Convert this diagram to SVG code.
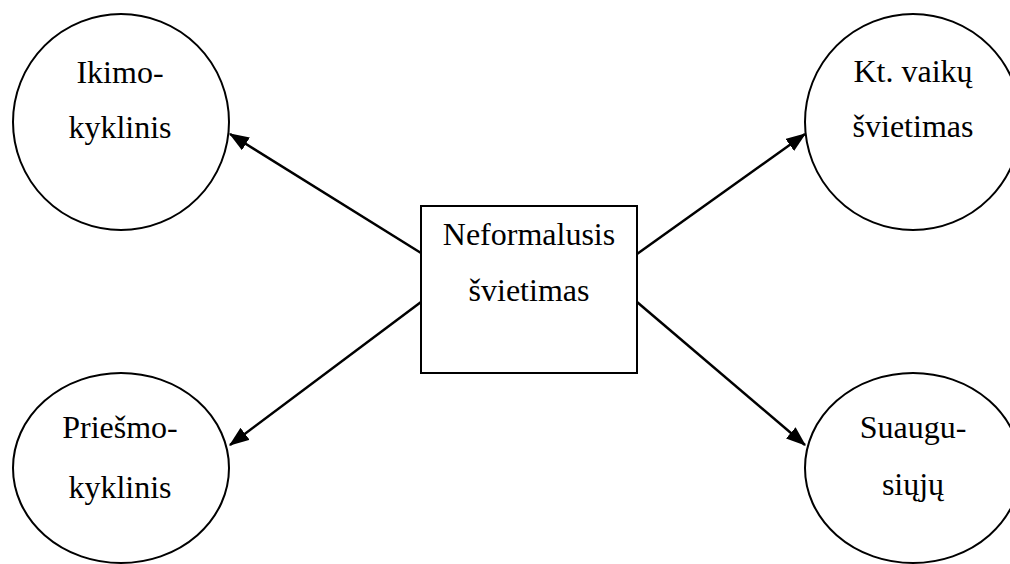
<svg xmlns="http://www.w3.org/2000/svg" width="1010" height="564" viewBox="0 0 1010 564">
<style>
.shape{fill:#fff;stroke:#000;stroke-width:2}
.lbl{font-family:'Liberation Serif','DejaVu Serif',serif;font-size:32px;fill:#000;text-anchor:middle}
.conn{stroke:#000;stroke-width:2.5;fill:none}
</style>
<defs>
<marker id="arr" markerWidth="8" markerHeight="6" refX="7.5" refY="3" orient="auto" markerUnits="strokeWidth">
<path d="M0,0 L8,3 L0,6 Z" fill="#000"/>
</marker>
</defs>
<rect width="1010" height="564" fill="#fff"/>
<g id="connectors">
<line class="conn" x1="421" y1="253" x2="230" y2="134" marker-end="url(#arr)"/>
<line class="conn" x1="421" y1="302" x2="230" y2="445" marker-end="url(#arr)"/>
<line class="conn" x1="637" y1="254" x2="805" y2="134" marker-end="url(#arr)"/>
<line class="conn" x1="637" y1="302" x2="805" y2="445" marker-end="url(#arr)"/>
</g>
<g id="center">
<rect class="shape" x="421" y="206" width="216" height="167"/>
<text class="lbl" x="529" y="245" font-family="Liberation Serif, serif">Neformalusis</text>
<text class="lbl" x="529" y="301" font-family="Liberation Serif, serif">švietimas</text>
</g>
<g id="ikimokyklinis">
<circle class="shape" cx="121" cy="122" r="108"/>
<text class="lbl" x="120" y="83">Ikimo-</text>
<text class="lbl" x="120" y="138">kyklinis</text>
</g>
<g id="priesmokyklinis">
<ellipse class="shape" cx="121" cy="468" rx="108" ry="95"/>
<text class="lbl" x="120" y="438">Priešmo-</text>
<text class="lbl" x="120" y="498">kyklinis</text>
</g>
<g id="vaiku">
<circle class="shape" cx="913" cy="122" r="108"/>
<text class="lbl" x="913" y="82">Kt. vaikų</text>
<text class="lbl" x="913" y="137">švietimas</text>
</g>
<g id="suaugusiuju">
<ellipse class="shape" cx="913" cy="468" rx="108" ry="95"/>
<text class="lbl" x="913" y="438">Suaugu-</text>
<text class="lbl" x="913" y="495">siųjų</text>
</g>
</svg>
